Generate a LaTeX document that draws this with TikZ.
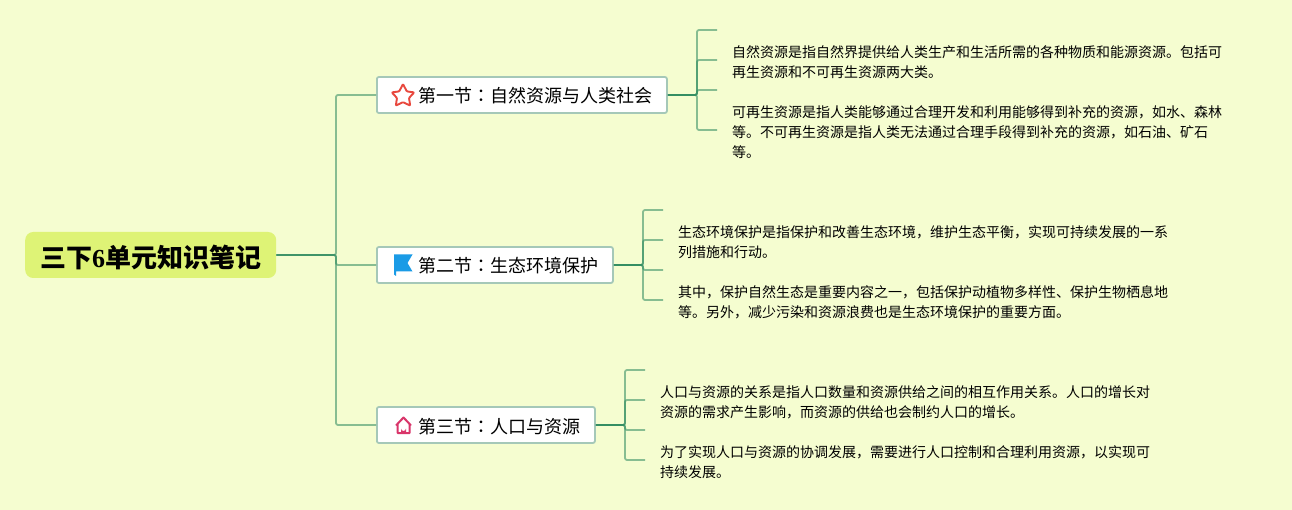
\documentclass[tikz,border=0pt]{standalone}
\usepackage{fontspec}
\setmainfont{Noto Sans CJK SC}
\newfontfamily\digitfont{Liberation Serif}
\newfontfamily\colonfont{Noto Sans CJK TC}
\usetikzlibrary{arrows.meta,calc,positioning}
\definecolor{paper}{RGB}{245,253,208}
\definecolor{rootcol}{RGB}{222,243,118}
\definecolor{linkcol}{RGB}{45,138,95}
\definecolor{framecol}{RGB}{165,200,184}
\definecolor{starcol}{RGB}{232,72,62}
\definecolor{flagcol}{RGB}{26,155,230}
\definecolor{homecol}{RGB}{217,53,106}
\newcommand{\seclabel}[1]{\hspace*{42pt}#1\hspace*{14pt}}
\tikzset{
  rootbox/.style={fill=rootcol,rounded corners=8pt,anchor=west,minimum width=251pt,minimum height=46pt,
    inner sep=0pt,text height=24.5pt,text depth=0pt,font=\fontsize{26}{30}\selectfont\bfseries},
  secbox/.style={draw=framecol,fill=white,line width=1.8pt,rounded corners=2pt,anchor=west,minimum height=36pt,
    inner ysep=0pt,inner xsep=0pt,text height=18pt,text depth=2pt,font=\fontsize{18}{22}\selectfont},
  notebox/.style={anchor=north west,align=left,inner sep=0pt,font=\fontsize{14}{20}\selectfont},
  link/.style={draw=linkcol,line width=1.8pt,opacity=0.55,rounded corners=2pt},
}
\begin{document}
\begin{tikzpicture}[x=1pt,y=-1pt]
  \fill[paper] (0,0) rectangle (1292,510);
  \useasboundingbox (0,0) rectangle (1292,510);
  % ---------------- main nodes ----------------
  \node[rootbox] (root) at (25,255) {三下{\digitfont 6}单元知识笔记};
  \node[secbox] (sec1) at (376,95) {\seclabel{第一节{\colonfont ：}自然资源与人类社会}};
  \node[secbox] (sec2) at (376,265) {\seclabel{第二节{\colonfont ：}生态环境保护}};
  \node[secbox] (sec3) at (376,425) {\seclabel{第三节{\colonfont ：}人口与资源}};
  % ---------------- root to sections ----------------
  \coordinate (trunk) at (336,255);
  \foreach \n in {1,2,3}
    \draw[link] (root.east) -- (trunk) |- (sec\n.west);
  % ---------------- section stubs ----------------
  \foreach \n/\hx/\sy/\ya/\yb/\yc/\yd in {1/697/95/30/60/90/130,2/643/265/210/240/270/300,3/625/425/370/400/430/460} {
    \coordinate (hub\n) at (\hx,\sy);
    \foreach \y in {\ya,\yb,\yc,\yd} {
      \coordinate (stub) at (\hx+20,\y);
      \draw[link] (sec\n.east) -- (hub\n) |- (stub);
    }
  }
  % ---------------- notes ----------------
  \node[notebox] (note1a) at (732,45) {自然资源是指自然界提供给人类生产和生活所需的各种物质和能源资源。包括可\\再生资源和不可再生资源两大类。};
  \node[notebox] (note1b) at (732,105) {可再生资源是指人类能够通过合理开发和利用能够得到补充的资源，如水、森林\\等。不可再生资源是指人类无法通过合理手段得到补充的资源，如石油、矿石\\等。};
  \node[notebox] (note2a) at (678,225) {生态环境保护是指保护和改善生态环境，维护生态平衡，实现可持续发展的一系\\列措施和行动。};
  \node[notebox] (note2b) at (678,285) {其中，保护自然生态是重要内容之一，包括保护动植物多样性、保护生物栖息地\\等。另外，减少污染和资源浪费也是生态环境保护的重要方面。};
  \node[notebox] (note3a) at (660,385) {人口与资源的关系是指人口数量和资源供给之间的相互作用关系。人口的增长对\\资源的需求产生影响，而资源的供给也会制约人口的增长。};
  \node[notebox] (note3b) at (660,445) {为了实现人口与资源的协调发展，需要进行人口控制和合理利用资源，以实现可\\持续发展。};
  % ---------------- icons ----------------
  \draw[starcol,line width=1.9pt,line join=round,rounded corners=0.8pt,fill=white]
    (403,84) -- (406.8,91.4) -- (414.2,92.4) -- (409,98) -- (410.2,105.6) -- (403,102.2) -- (395.8,105.6) -- (397,98) -- (391.8,92.4) -- (399.2,91.4) -- cycle;
  \fill[flagcol] (394,254.5) -- (412.5,254.5) -- (407.5,263) -- (412.5,271.5) -- (396,271.5) -- (396,276) -- (394,274.5) -- cycle;
  \draw[homecol,line width=2pt,line join=round] (396,425.5) -- (403.5,417.5) -- (411,425.5) (397.5,424.5) -- (397.5,433) -- (409.5,433) -- (409.5,424.5);
  \fill[homecol] (401,433) -- (401,428.5) arc[start angle=180,end angle=0,radius=2.5] -- (406,433) -- cycle;
\end{tikzpicture}
\end{document}
